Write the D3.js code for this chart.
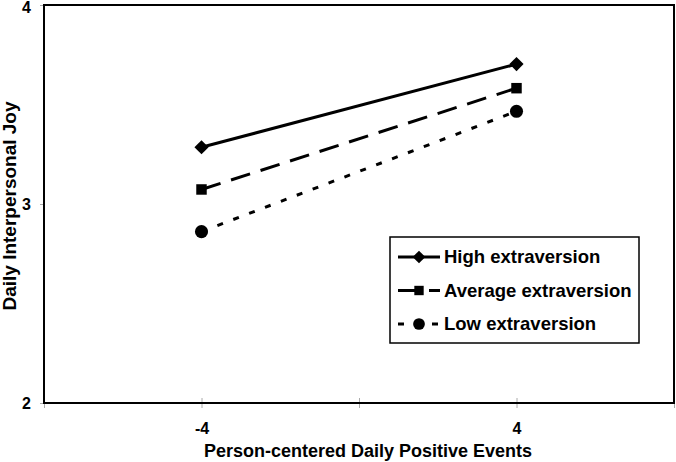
<!DOCTYPE html>
<html><head><meta charset="utf-8">
<script src="https://d3js.org/d3.v7.min.js"></script>
<style>body{margin:0;background:#fff}svg{display:block}text{font-family:"Liberation Sans",Arial,sans-serif;font-weight:bold;fill:#000}</style>
</head><body><svg id="c" width="676" height="462"></svg>
<script>
const xValues = [-4, 4];
const seriesNames = ["High extraversion", "Average extraversion", "Low extraversion"];
const highValues = [3.285, 3.703];
const averageValues = [3.073, 3.582];
const lowValues = [2.861, 3.466];
const xTicks = [-8, -4, 0, 4, 8];
const xTickLabels = ["", "-4", "", "4", ""];
const yTicks = [2, 3, 4];

const svg = d3.select("#c");
const L = 44, R = 674, T = 5, B = 403;
const x = d3.scaleLinear().domain([-8, 8]).range([L, R]);
const y = d3.scaleLinear().domain([2, 4]).range([B, T]);

// ticks
const xAxis = d3.axisBottom(x).tickValues(xTicks).tickFormat((d,i)=>xTickLabels[i]).tickSize(5);
const gx = svg.append("g").attr("transform", `translate(0,${B})`).call(xAxis)
  .attr("font-size", 16).attr("font-family", null);
gx.select(".domain").remove();
gx.selectAll(".tick line").attr("stroke", "#aaa").attr("y1", -5).attr("y2", 5);
gx.selectAll(".tick text").attr("y", 31).attr("dy", null);

const yAxis = d3.axisLeft(y).tickValues(yTicks).tickFormat(d3.format("d")).tickSize(4).tickPadding(9);
const gy = svg.append("g").attr("transform", `translate(${L},0)`).call(yAxis)
  .attr("font-size", 16).attr("font-family", null);
gy.select(".domain").remove();
gy.selectAll(".tick line").attr("stroke", "#aaa");
gy.selectAll(".tick text").attr("dy", (d)=> d === 4 ? "0.45em" : "0.35em");

// plot border
svg.append("rect").attr("x", L).attr("y", T).attr("width", R - L).attr("height", B - T)
  .attr("fill", "none").attr("stroke", "#000").attr("stroke-width", 2);

// axis titles
svg.append("text").attr("x", 368).attr("y", 457).attr("text-anchor", "middle")
  .style("font-size", "18px").text("Person-centered Daily Positive Events");
svg.append("text").attr("transform", "translate(9,206) rotate(-90)").attr("text-anchor", "middle")
  .attr("dy", "0.35em").style("font-size", "19px").text("Daily Interpersonal Joy");

const diamond = {draw(ctx, size){ const s = Math.sqrt(size)/2*1.35; ctx.moveTo(0,-s); ctx.lineTo(s,0); ctx.lineTo(0,s); ctx.lineTo(-s,0); ctx.closePath(); }};
const series = [
  {name: seriesNames[0], values: highValues, dash: null, marker: diamond, size: 110},
  {name: seriesNames[1], values: averageValues, dash: "20,11", marker: d3.symbolSquare, size: 110},
  {name: seriesNames[2], values: lowValues, dash: "6,11", marker: d3.symbolCircle, size: 135}
];

const line = d3.line().x((d,i)=>x(xValues[i])).y(d=>y(d));
series.forEach(s => {
  svg.append("path").datum(s.values).attr("d", line).attr("fill", "none")
    .attr("stroke", "#000").attr("stroke-width", 3).attr("stroke-dasharray", s.dash);
  svg.selectAll(null).data(s.values).enter().append("path")
    .attr("d", d3.symbol().type(s.marker).size(s.size))
    .attr("transform", (d,i)=>`translate(${x(xValues[i])},${y(d)})`).attr("fill", "#000");
});

// legend
const lg = svg.append("g");
lg.append("rect").attr("x", 390).attr("y", 237).attr("width", 249).attr("height", 106)
  .attr("fill", "#fff").attr("stroke", "#000").attr("stroke-width", 1.5);
series.forEach((s, i) => {
  const cy = 257 + i * 33.5;
  lg.append("line").attr("x1", 398).attr("x2", 440).attr("y1", cy).attr("y2", cy)
    .attr("stroke", "#000").attr("stroke-width", 3).attr("stroke-dasharray", s.dash);
  lg.append("path").attr("d", d3.symbol().type(s.marker).size(s.size * 0.8)())
    .attr("transform", `translate(419,${cy})`).attr("fill", "#000");
  lg.append("text").attr("x", 444).attr("y", cy).attr("dy", "0.35em")
    .style("font-size", "18.5px").text(s.name);
});
</script></body></html>
